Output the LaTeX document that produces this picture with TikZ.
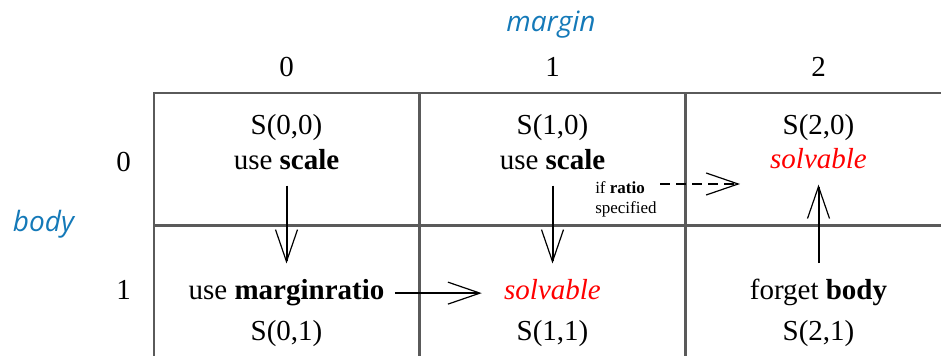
\documentclass[tikz,border=0pt]{standalone}
\usepackage{fontspec}
\setmainfont{Liberation Serif}
\newfontfamily\axisfont{Open Sans}
\usetikzlibrary{arrows.meta,positioning}
\definecolor{azure}{HTML}{1479B8}
\definecolor{linegray}{HTML}{5A5A5A}
\definecolor{okred}{HTML}{FF0000}
\newcommand{\opt}[1]{\textbf{#1}}
\tikzset{
  cell/.style={draw=linegray,line width=0.6pt,minimum width=132.5pt,minimum height=66pt,inner sep=0pt},
  txt/.style={anchor=base,inner sep=0pt,font=\fontsize{14.5}{17}\selectfont},
  axis/.style={anchor=base,inner sep=0pt,text=azure,font=\axisfont\itshape\fontsize{14}{17}\selectfont},
  ok/.style={txt,text=okred,font=\fontsize{14.5}{17}\selectfont\itshape},
  note/.style={align=left,inner sep=0pt,font=\fontsize{8.5}{10}\selectfont},
  arr/.style={-{Straight Barb[length=16pt,width=11pt,line width=0.6pt]},line width=1pt},
  arrd/.style={arr,dash pattern=on 5pt off 3pt},
}

\begin{document}
\begin{tikzpicture}[x=0.5pt,y=-0.5pt]
  \useasboundingbox (0,0) rectangle (941,356);
  \clip (0,0) rectangle (941,356);
  % grid of cases
  \foreach \c in {0,1,2}{
    \foreach \r in {0,1}{
      \node[cell] (c\c\r) at ({286.5+266*\c},{159+133*\r}) {};
    }}
  % axes
  \node[axis] (margin) at (551,32) {margin};
  \node[axis] (body) at (43.5,232) {body};
  \foreach \c in {0,1,2}
    \node[txt] (col\c) at ({286.5+266*\c},77) {\c};
  \node[txt] (row0) at (123.5,172) {0};
  \node[txt] (row1) at (123.5,300) {1};
  % cases
  \node[txt] (s00) at (286.5,135) {S(0,0)};
  \node[txt] (u00) at (286.5,170) {use \opt{scale}};
  \node[txt] (s10) at (552.5,135) {S(1,0)};
  \node[txt] (u10) at (552.5,170) {use \opt{scale}};
  \node[txt] (s20) at (818.5,135) {S(2,0)};
  \node[ok] (u20) at (818.5,169) {solvable};
  \node[txt] (u01) at (286.5,300) {use \opt{marginratio}};
  \node[txt] (s01) at (286.5,341) {S(0,1)};
  \node[ok] (u11) at (552.5,300) {solvable};
  \node[txt] (s11) at (552.5,341) {S(1,1)};
  \node[txt] (u21) at (818.5,300) {forget \opt{body}};
  \node[txt] (s21) at (818.5,341) {S(2,1)};
  \node[note,anchor=north east] (ratio) at (657,181) {if \opt{ratio}\\specified};
  \coordinate (ratioend) at (740,184);
  % moves
  \draw[arr,shorten <=7.5pt,shorten >=8pt] (u00.south) -- (u01.north);
  \draw[arr,shorten <=7.5pt,shorten >=8pt] (u10.south) -- (u11.north);
  \draw[arr,shorten <=5pt,shorten >=11pt] (u01.east) -- (u01.east -| u11.west);
  \draw[arr,shorten <=8pt,shorten >=7.5pt] (u21.north) -- (u20.south);
  \draw[arrd,shorten <=1.5pt] (ratio.east |- ratioend) -- (ratioend);
\end{tikzpicture}
\end{document}
